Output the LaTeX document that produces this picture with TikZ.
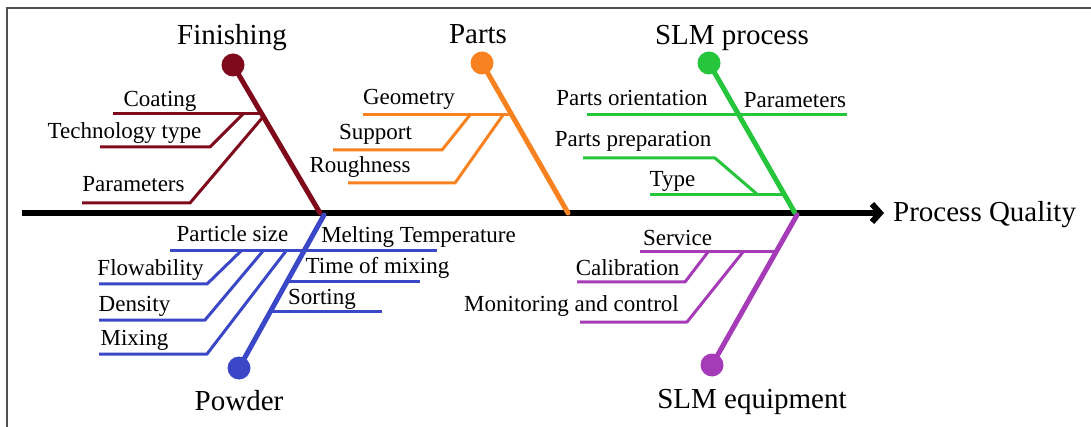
\documentclass[tikz,border=0pt]{standalone}
\usepackage{fontspec}
\setmainfont{Liberation Serif}
\newfontfamily\tnr{Liberation Serif}
\usetikzlibrary{arrows.meta}
\definecolor{cFin}{HTML}{7F0A1C}
\definecolor{cPar}{HTML}{F7821F}
\definecolor{cSlm}{HTML}{25C63C}
\definecolor{cPow}{HTML}{3A48C8}
\definecolor{cEqu}{HTML}{A63BB8}
\definecolor{cFrame}{HTML}{505050}
\tikzset{
  bone/.style={line width=5pt,line cap=round},
  subbone/.style={line width=3pt,line join=round},
  ball/.style={circle,fill,inner sep=0pt,minimum size=23pt},
  cat/.style={font=\tnr\fontsize{29}{31}\selectfont,anchor=base,inner sep=0pt},
  lab/.style={font=\tnr\fontsize{23}{25}\selectfont,anchor=base,inner sep=0pt},
}
\begin{document}
\begin{tikzpicture}[x=1pt,y=-1pt]
\useasboundingbox (0,0) rectangle (1091,427);
% frame
\draw[cFrame,line width=2pt] (7,427) -- (7,8) -- (1091,8);
% spine
\coordinate (s0) at (22,213);
\coordinate (s1) at (884,213);
\draw[line width=6pt,-{Straight Barb[length=8pt,width=18pt]}] (s0) -- (s1);
\node[font=\tnr\fontsize{29}{31}\selectfont,anchor=base west,inner sep=0pt] (pq) at (893,222) {Process Quality};

% ---------- Finishing ----------
\node[ball,cFin] (finB) at (233,65) {};
\coordinate (finS) at (320,213);
\draw[bone,cFin] (finB.center) -- (finS);
\node[cat] (finT) at (232,45) {Finishing};
\coordinate (fa1) at (113,114); \coordinate (fa2) at (262,114);
\draw[subbone,cFin] (fa1) -- (fa2);
\node[lab] (coat) at (160,107) {Coating};
\coordinate (fb1) at (100,147); \coordinate (fb2) at (210,147); \coordinate (fb3) at (243,114);
\draw[subbone,cFin] (fb1) -- (fb2) -- (fb3);
\node[lab] (tech) at (124.5,139) {Technology type};
\coordinate (fc1) at (82,203); \coordinate (fc2) at (190,203); \coordinate (fc3) at (263,117);
\draw[subbone,cFin] (fc1) -- (fc2) -- (fc3);
\node[lab] (fpar) at (133.5,192) {Parameters};

% ---------- Parts ----------
\node[ball,cPar] (parB) at (482,63) {};
\coordinate (parS) at (568,213);
\draw[bone,cPar] (parB.center) -- (parS);
\node[cat] (parT) at (478,44) {Parts};
\coordinate (pa1) at (363,115); \coordinate (pa2) at (511,115);
\draw[subbone,cPar] (pa1) -- (pa2);
\node[lab] (geo) at (409,105) {Geometry};
\coordinate (pb1) at (333,150); \coordinate (pb2) at (442,150); \coordinate (pb3) at (470,115);
\draw[subbone,cPar] (pb1) -- (pb2) -- (pb3);
\node[lab] (sup) at (375.5,140) {Support};
\coordinate (pc1) at (348,183); \coordinate (pc2) at (455,183); \coordinate (pc3) at (503,115);
\draw[subbone,cPar] (pc1) -- (pc2) -- (pc3);
\node[lab] (rough) at (360,173) {Roughness};

% ---------- SLM process ----------
\node[ball,cSlm] (slmB) at (709,63) {};
\coordinate (slmS) at (795,213);
\draw[bone,cSlm] (slmB.center) -- (slmS);
\node[cat] (slmT) at (732,45) {SLM process};
\coordinate (sa1) at (587,115); \coordinate (sa2) at (847,115);
\draw[subbone,cSlm] (sa1) -- (sa2);
\node[lab] (orient) at (632,106) {Parts orientation};
\node[lab] (spar) at (795,108) {Parameters};
\coordinate (sb1) at (583,158); \coordinate (sb2) at (715,158); \coordinate (sb3) at (758,195);
\draw[subbone,cSlm] (sb1) -- (sb2) -- (sb3);
\node[lab] (prep) at (633,147) {Parts preparation};
\coordinate (sc1) at (650,195); \coordinate (sc2) at (785,195);
\draw[subbone,cSlm] (sc1) -- (sc2);
\node[lab] (type) at (672.5,187) {Type};

% ---------- Powder ----------
\node[ball,cPow] (powB) at (239,368) {};
\coordinate (powS) at (324,215);
\draw[bone,cPow] (powB.center) -- (powS);
\node[cat] (powT) at (239,410) {Powder};
\coordinate (wa1) at (170,251); \coordinate (wa2) at (437,251);
\draw[subbone,cPow] (wa1) -- (wa2);
\node[lab] (psize) at (232.5,242) {Particle size};
\node[lab] (melt) at (418.5,243) {Melting Temperature};
\coordinate (wb1) at (99,284); \coordinate (wb2) at (207,284); \coordinate (wb3) at (241,251);
\draw[subbone,cPow] (wb1) -- (wb2) -- (wb3);
\node[lab] (flow) at (150.5,276) {Flowability};
\coordinate (wc1) at (99,320); \coordinate (wc2) at (205,320); \coordinate (wc3) at (263,251);
\draw[subbone,cPow] (wc1) -- (wc2) -- (wc3);
\node[lab] (dens) at (134.5,312) {Density};
\coordinate (wd1) at (99,354); \coordinate (wd2) at (207,354); \coordinate (wd3) at (286,251);
\draw[subbone,cPow] (wd1) -- (wd2) -- (wd3);
\node[lab] (mix) at (134.5,345) {Mixing};
\coordinate (we1) at (287,282); \coordinate (we2) at (420,282);
\draw[subbone,cPow] (we1) -- (we2);
\node[lab] (tmix) at (377.5,274) {Time of mixing};
\coordinate (wf1) at (271,311); \coordinate (wf2) at (382,311);
\draw[subbone,cPow] (wf1) -- (wf2);
\node[lab] (sort) at (322,305) {Sorting};

% ---------- SLM equipment ----------
\node[ball,cEqu] (equB) at (712,365) {};
\coordinate (equS) at (797,215);
\draw[bone,cEqu] (equB.center) -- (equS);
\node[cat] (equT) at (752,408) {SLM equipment};
\coordinate (ea1) at (640,252); \coordinate (ea2) at (776,252);
\draw[subbone,cEqu] (ea1) -- (ea2);
\node[lab] (serv) at (677.5,246) {Service};
\coordinate (eb1) at (577,282); \coordinate (eb2) at (685,282); \coordinate (eb3) at (708,252);
\draw[subbone,cEqu] (eb1) -- (eb2) -- (eb3);
\node[lab] (calib) at (627.5,276) {Calibration};
\coordinate (ec1) at (580,322); \coordinate (ec2) at (687,322); \coordinate (ec3) at (743,252);
\draw[subbone,cEqu] (ec1) -- (ec2) -- (ec3);
\node[lab] (moni) at (571.5,312) {Monitoring and control};
\end{tikzpicture}
\end{document}
